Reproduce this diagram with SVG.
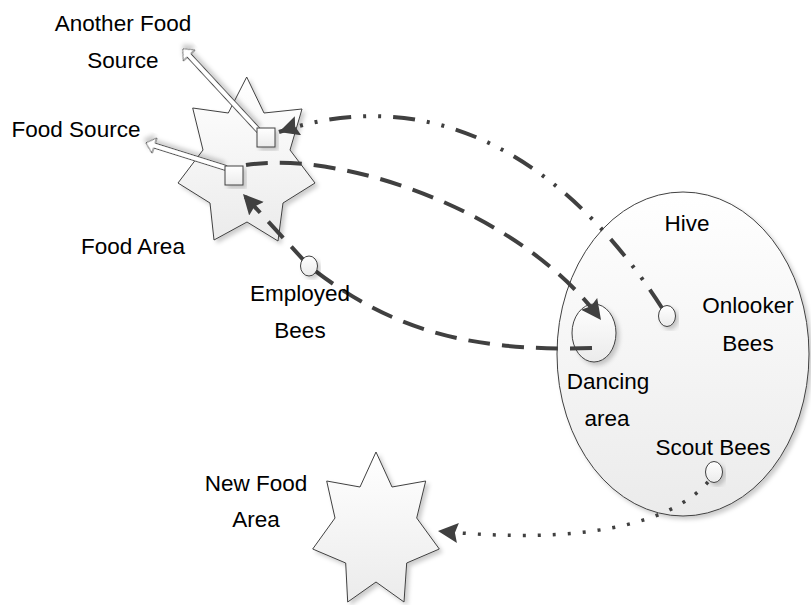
<svg xmlns="http://www.w3.org/2000/svg" width="811" height="605" viewBox="0 0 811 605">
<style>
  text { font-family: "Liberation Sans", Arial, sans-serif; font-size: 22.5px; fill: #000; text-anchor: middle; }
  .shape { fill: url(#g); stroke: #404040; stroke-width: 1; filter: url(#sh); }
  .hollow { fill: #fff; stroke: #505050; stroke-width: 1; filter: url(#sh); }
  .conn { fill: none; stroke: #404040; stroke-width: 4; }
  .dash { stroke-dasharray: 22 12; }
  .dashdot { stroke-dasharray: 22 12 3 12 3 12; }
  .dot { stroke-width: 3.5; stroke-dasharray: 3 12; }
</style>
<defs>
  <linearGradient id="g" x1="0" y1="0" x2="0" y2="1">
    <stop offset="0" stop-color="#ffffff"/>
    <stop offset="1" stop-color="#ebebeb"/>
  </linearGradient>
  <filter id="sh" x="-20%" y="-20%" width="140%" height="140%">
    <feDropShadow dx="3" dy="3" stdDeviation="2" flood-color="#000" flood-opacity="0.2"/>
  </filter>
  <marker id="ah" markerUnits="userSpaceOnUse" markerWidth="26" markerHeight="24" refX="20" refY="10" orient="auto">
    <path d="M0,0 L20,10 L0,20 L3,10 z" fill="#404040"/>
  </marker>
</defs>

<g id="food-area">
  <polygon class="shape" points="246.7,77 264,113 302,109 290,150 315,183 283,203 278,241 247,222 214,240 210,203 178,183 203,150 192.7,108 228.3,113"/>
  <text x="133" y="254">Food Area</text>
</g>

<g id="new-food-area">
  <polygon class="shape" points="376,452 392,487 425.7,481 416.7,518 439.3,549 406.7,563 404,602 376,582 347.7,602 345.7,563 312.7,549 335,518 326.7,481 360,487"/>
  <text x="256" y="491">New Food</text>
  <text x="256" y="527">Area</text>
</g>

<g id="hive">
  <ellipse class="shape" cx="683" cy="354" rx="126" ry="162"/>
  <text x="687" y="231">Hive</text>
</g>

<g id="dancing-area">
  <ellipse class="shape" cx="594" cy="333" rx="22" ry="29"/>
  <text x="608" y="389">Dancing</text>
  <text x="607" y="426">area</text>
</g>

<g id="onlooker-bees">
  <ellipse class="shape" cx="667" cy="316" rx="8.5" ry="10.5"/>
  <text x="748" y="313">Onlooker</text>
  <text x="748" y="351">Bees</text>
</g>

<g id="scout-bees">
  <ellipse class="shape" cx="714" cy="472" rx="8.5" ry="10.5"/>
  <text x="713" y="455">Scout Bees</text>
</g>

<g id="another-food-source">
  <polygon class="hollow" transform="translate(259,131) rotate(227.2)" points="0,-2.5 103,-2.5 103,-8 112,0 103,8 103,2.5 0,2.5"/>
  <rect class="shape" x="257" y="128" width="18" height="19"/>
  <text x="123" y="31">Another Food</text>
  <text x="123" y="68">Source</text>
</g>

<g id="food-source">
  <polygon class="hollow" transform="translate(226,168) rotate(197.4)" points="0,-2.5 75,-2.5 75,-8 84,0 75,8 75,2.5 0,2.5"/>
  <rect class="shape" x="225" y="166" width="18" height="19"/>
  <text x="76" y="137">Food Source</text>
</g>

<g id="connectors">
  <path class="conn dash" d="M592,348 C470,352 390,330 309,266 L243,194" marker-end="url(#ah)"/>
  <path class="conn dash" d="M246,165 C340,150 520,210 601,320" marker-end="url(#ah)"/>
  <path class="conn dashdot" d="M662,308 C580,180 450,75 279,132" marker-end="url(#ah)"/>
  <path class="conn dot" d="M708,482 C670,525 580,545 438,531" marker-end="url(#ah)"/>
</g>

<g id="employed-bees">
  <ellipse class="shape" cx="309" cy="266" rx="8.5" ry="10"/>
  <text x="300" y="301">Employed</text>
  <text x="300" y="338">Bees</text>
</g>
</svg>
